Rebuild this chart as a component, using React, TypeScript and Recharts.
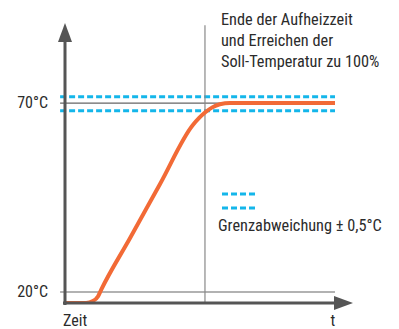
import React from 'react';
import { LineChart, Line, XAxis, YAxis, ReferenceLine, Legend } from 'recharts';

// heating curve: time (arbitrary units) vs temperature (°C)
const TIMES = [0, 7.3, 9.7, 11.5, 12.5, 22.6, 33.0, 44.4, 46.5, 48.6, 51.0, 53.8, 57.3, 93.75];
const TEMPS = [17.1, 17.1, 17.6, 18.9, 20.5, 34.3, 48.6, 64.2, 66.0, 67.5, 68.8, 69.7, 70, 70];

const Y_TICKS = [20, 70];
const Y_TICK_LABELS = ['20°C', '70°C'];
const X_TICKS = [0, 93];
const X_TICK_LABELS = ['Zeit', 't'];

const TARGET = 70;
const BASE = 20;
const TOL_HIGH = 71.7;
const TOL_LOW = 68.0;
const END_HEATING = 48.6;
const X_MIN = 0;
const X_MAX = 100;
const Y_MIN = 17.1;
const Y_MAX = 91.2;
const LINE_END = 93.75;

const ANNOTATION = ['Ende der Aufheizzeit', 'und Erreichen der', 'Soll-Temperatur zu 100%'];
const LEGEND_TEXT = 'Grenzabweichung ± 0,5°C';

const data = TIMES.map((t, i) => ({ t, temp: TEMPS[i] }));

const FONT = '"Liberation Sans Narrow", "Arial Narrow", "Roboto Condensed", "Liberation Sans", sans-serif';
const TEXT = '#2b2b2b';
const AXIS = '#555';
const ORANGE = '#f26a36';
const BLUE = '#14b6ea';

const ArrowLine = (props: any) => {
  const { x1, y1, x2, y2 } = props;
  const dx = x2 - x1;
  const dy = y2 - y1;
  const len = Math.sqrt(dx * dx + dy * dy) || 1;
  const ux = dx / len;
  const uy = dy / len;
  const head = 19;
  const hw = 7;
  const bx = x2 - ux * head;
  const by = y2 - uy * head;
  return (
    <g>
      <line x1={x1 - ux * 2} y1={y1 - uy * 2} x2={bx} y2={by} stroke={AXIS} strokeWidth={3} />
      <polygon
        points={`${x2},${y2} ${bx - uy * hw},${by + ux * hw} ${bx + uy * hw},${by - ux * hw}`}
        fill={AXIS}
      />
    </g>
  );
};

const YTick = ({ x, y, payload }: any) => {
  const idx = Y_TICKS.indexOf(payload.value);
  return (
    <text x={x} y={y} dy={5} textAnchor="end" fill={TEXT} fontSize={16} fontFamily={FONT}>
      {Y_TICK_LABELS[idx]}
    </text>
  );
};

const XTick = ({ x, y, payload }: any) => {
  const idx = X_TICKS.indexOf(payload.value);
  return (
    <text
      x={idx === 0 ? x - 2 : x}
      y={y}
      dy={21}
      textAnchor={idx === 0 ? 'start' : 'middle'}
      fill={TEXT}
      fontSize={16}
      fontFamily={FONT}
    >
      {X_TICK_LABELS[idx]}
    </text>
  );
};

const LegendContent = () => (
  <div style={{ fontFamily: FONT, fontSize: 16.3, color: TEXT }}>
    <svg width={40} height={20} style={{ display: 'block' }}>
      <line x1={4} y1={4} x2={37} y2={4} stroke={BLUE} strokeWidth={3} strokeDasharray="6 3" />
      <line x1={4} y1={18} x2={37} y2={18} stroke={BLUE} strokeWidth={3} strokeDasharray="6 3" />
    </svg>
    <div style={{ marginTop: 6, whiteSpace: 'nowrap' }}>{LEGEND_TEXT}</div>
  </div>
);

export default function App() {
  return (
    <div style={{ position: 'absolute', left: 0, top: 0, width: 399, height: 329, background: '#fff' }}>
      <LineChart width={399} height={329} data={data} margin={{ top: 23, right: 46, bottom: 0, left: 15 }}>
        <XAxis
          dataKey="t"
          type="number"
          domain={[X_MIN, X_MAX]}
          ticks={X_TICKS}
          tick={<XTick />}
          axisLine={false}
          tickLine={false}
          tickSize={0}
          height={26}
        />
        <YAxis
          type="number"
          domain={[Y_MIN, Y_MAX]}
          ticks={Y_TICKS}
          tick={<YTick />}
          axisLine={false}
          tickLine={false}
          tickSize={0}
          tickMargin={17}
          width={50}
          allowDataOverflow
        />
        <ReferenceLine
          segment={[{ x: -1.7, y: BASE }, { x: LINE_END, y: BASE }]}
          stroke="#999"
          strokeWidth={1.5}
          ifOverflow="visible"
        />
        <ReferenceLine
          segment={[{ x: -1.7, y: TARGET }, { x: LINE_END, y: TARGET }]}
          stroke="#666"
          strokeWidth={1.2}
          ifOverflow="visible"
        />
        <ReferenceLine
          segment={[{ x: -1.7, y: TOL_HIGH }, { x: LINE_END, y: TOL_HIGH }]}
          stroke={BLUE}
          strokeWidth={3}
          strokeDasharray="6 3"
          ifOverflow="visible"
        />
        <ReferenceLine
          segment={[{ x: -1.7, y: TOL_LOW }, { x: LINE_END, y: TOL_LOW }]}
          stroke={BLUE}
          strokeWidth={3}
          strokeDasharray="6 3"
          ifOverflow="visible"
        />
        <ReferenceLine
          segment={[{ x: END_HEATING, y: Y_MIN }, { x: END_HEATING, y: 90.6 }]}
          stroke="#888"
          strokeWidth={1.2}
          ifOverflow="visible"
        />
        <Line
          type="monotone"
          dataKey="temp"
          stroke={ORANGE}
          strokeWidth={4}
          dot={false}
          activeDot={false}
          isAnimationActive={false}
        />
        <ReferenceLine
          segment={[{ x: X_MIN, y: Y_MIN }, { x: X_MIN, y: Y_MAX }]}
          shape={<ArrowLine />}
          ifOverflow="visible"
        />
        <ReferenceLine
          segment={[{ x: X_MIN, y: Y_MIN }, { x: X_MAX, y: Y_MIN }]}
          shape={<ArrowLine />}
          ifOverflow="visible"
        />
        <Legend
          layout="horizontal"
          verticalAlign="middle"
          align="center"
          content={<LegendContent />}
          wrapperStyle={{ left: 218, top: 190, width: 'auto' }}
        />
      </LineChart>
      <div
        style={{
          position: 'absolute',
          left: 221,
          top: 9,
          fontFamily: FONT,
          fontSize: 16.3,
          lineHeight: '21px',
          color: TEXT,
          whiteSpace: 'nowrap',
        }}
      >
        {ANNOTATION.map((s) => (
          <div key={s}>{s}</div>
        ))}
      </div>
    </div>
  );
}
